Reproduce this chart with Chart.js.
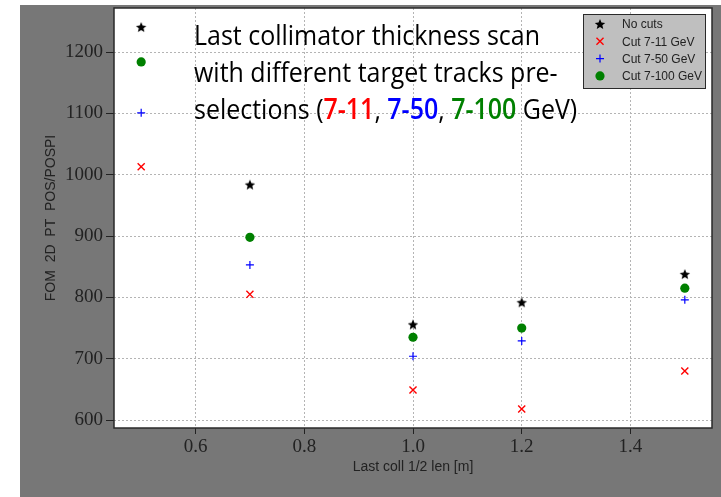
<!DOCTYPE html>
<html>
<head>
<meta charset="utf-8">
<script src="https://cdn.jsdelivr.net/npm/chart.js@4/dist/chart.umd.min.js"></script>
<style>
  html, body { margin: 0; padding: 0; background: #ffffff; }
  #wrap { width: 721px; height: 497px; position: relative; }
</style>
</head>
<body>
<div id="wrap"><canvas id="c" width="721" height="497"></canvas></div>
<script>
// Last collimator half-length scan, FOM for each target-track pre-selection
const halfLengths = [0.5, 0.7, 1.0, 1.2, 1.5];
const fomNoCuts   = [1241, 984, 756, 792, 838];
const fomCut7_11  = [1013, 805, 649, 618, 680];
const fomCut7_50  = [1101, 853, 704, 729, 796];
const fomCut7_100 = [1184, 898, 735, 750, 815];

const seriesNames = ['No cuts', 'Cut 7-11 GeV', 'Cut 7-50 GeV', 'Cut 7-100 GeV'];
const xTicks = [0.6, 0.8, 1.0, 1.2, 1.4];
const yTicks = [600, 700, 800, 900, 1000, 1100, 1200];

const toPoints = (ys) => halfLengths.map((x, i) => ({ x: x, y: ys[i] }));

// filled five-point star marker
function makeStar(size, r, color) {
  const cv = document.createElement('canvas');
  cv.width = size; cv.height = size;
  const g = cv.getContext('2d');
  g.fillStyle = color;
  g.beginPath();
  for (let i = 0; i < 10; i++) {
    const rad = i % 2 === 0 ? r : r * 0.45;
    const a = -Math.PI / 2 + i * Math.PI / 5;
    const px = size / 2 + rad * Math.cos(a);
    const py = size / 2 + 0.6 + rad * Math.sin(a);
    if (i === 0) g.moveTo(px, py); else g.lineTo(px, py);
  }
  g.closePath();
  g.fill();
  return cv;
}
const starMarker = makeStar(14, 5.5, '#000000');

const tickFont = { family: "'Liberation Serif', 'DejaVu Serif', serif", size: 19 };
const titleFont = { family: "'Liberation Sans', 'DejaVu Sans', sans-serif", size: 14 };

// draws one legend marker in the style of its dataset
function legendMarker(ctx, ds, cx, cy) {
  const st = ds.pointStyle;
  if (st instanceof HTMLCanvasElement) {
    ctx.drawImage(st, cx - st.width / 2, cy - st.height / 2);
    return;
  }
  ctx.fillStyle = ds.pointBackgroundColor;
  ctx.strokeStyle = ds.pointBorderColor;
  ctx.lineWidth = ds.pointBorderWidth;
  const r = ds.pointRadius;
  ctx.beginPath();
  if (st === 'circle') {
    ctx.arc(cx, cy, r, 0, Math.PI * 2);
    ctx.fill();
  } else if (st === 'cross') {
    ctx.moveTo(cx - r, cy); ctx.lineTo(cx + r, cy);
    ctx.moveTo(cx, cy - r); ctx.lineTo(cx, cy + r);
    ctx.stroke();
  } else if (st === 'crossRot') {
    const d = r * Math.SQRT1_2;
    ctx.moveTo(cx - d, cy - d); ctx.lineTo(cx + d, cy + d);
    ctx.moveTo(cx - d, cy + d); ctx.lineTo(cx + d, cy - d);
    ctx.stroke();
  }
}

// page backdrop, frame, legend box and the annotation text
const decor = {
  id: 'decor',
  beforeDraw(chart) {
    const { ctx, chartArea: a } = chart;
    ctx.save();
    ctx.fillStyle = '#ffffff';
    ctx.fillRect(0, 0, chart.width, chart.height);
    ctx.fillStyle = '#777777';
    ctx.fillRect(20, 5, chart.width - 20, chart.height - 5);
    ctx.fillStyle = '#ffffff';
    ctx.fillRect(a.left, a.top, a.right - a.left, a.bottom - a.top);
    ctx.restore();
  },
  afterDraw(chart) {
    const { ctx, chartArea: a } = chart;
    ctx.save();
    // frame
    ctx.strokeStyle = '#2a2a2a';
    ctx.lineWidth = 1.5;
    ctx.strokeRect(a.left, a.top, a.right - a.left, a.bottom - a.top);

    // legend
    const lx = a.right - 129, ly = a.top + 6, lw = 122, lh = 74;
    ctx.fillStyle = '#bfbfbf';
    ctx.fillRect(lx, ly, lw, lh);
    ctx.strokeStyle = '#2a2a2a';
    ctx.lineWidth = 1;
    ctx.strokeRect(lx + 0.5, ly + 0.5, lw, lh);
    ctx.textBaseline = 'middle';
    ctx.textAlign = 'left';
    chart.data.datasets.forEach((ds, i) => {
      const cy = ly + 10 + i * 17.3;
      legendMarker(ctx, ds, lx + 17, cy);
      ctx.font = "12px 'Liberation Sans', 'DejaVu Sans', sans-serif";
      ctx.fillStyle = '#222222';
      ctx.fillText(ds.label, lx + 39, cy + 1);
    });

    // annotation
    const lines = [
      [['Last collimator thickness scan', '#000000', false]],
      [['with different target tracks pre-', '#000000', false]],
      [['selections (', '#000000', false], ['7-11', '#ff0000', true], [', ', '#000000', false],
       ['7-50', '#0000ff', true], [', ', '#000000', false], ['7-100', '#008000', true],
       [' GeV)', '#000000', false]]
    ];
    const baseFamily = "'Open Sans', 'Noto Sans', sans-serif";
    const fontFor = (bold) => (bold ? '600 ' : '') + "28px " + baseFamily;
    ctx.font = fontFor(false);
    const sx = 346 / ctx.measureText(lines[0][0][0]).width;
    const baselines = [45, 82, 119];
    ctx.textBaseline = 'alphabetic';
    lines.forEach((segs, li) => {
      ctx.save();
      ctx.translate(194, baselines[li]);
      ctx.scale(sx, 1);
      let x = 0;
      segs.forEach(([t, col, bold]) => {
        ctx.font = fontFor(bold);
        ctx.fillStyle = col;
        ctx.fillText(t, x, 0);
        x += ctx.measureText(t).width;
      });
      ctx.restore();
    });
    ctx.restore();
  }
};

new Chart(document.getElementById('c'), {
  type: 'scatter',
  data: {
    datasets: [
      { label: seriesNames[0], data: toPoints(fomNoCuts), pointStyle: starMarker,
        pointRadius: 6, pointBackgroundColor: '#000', pointBorderColor: '#000', pointBorderWidth: 1 },
      { label: seriesNames[1], data: toPoints(fomCut7_11), pointStyle: 'crossRot',
        pointRadius: 5, pointBackgroundColor: '#ff0000', pointBorderColor: '#ff0000', pointBorderWidth: 1.4 },
      { label: seriesNames[2], data: toPoints(fomCut7_50), pointStyle: 'cross',
        pointRadius: 4, pointBackgroundColor: '#0000ff', pointBorderColor: '#0000ff', pointBorderWidth: 1.2 },
      { label: seriesNames[3], data: toPoints(fomCut7_100), pointStyle: 'circle',
        pointRadius: 4.6, pointBackgroundColor: '#008000', pointBorderColor: '#008000', pointBorderWidth: 0 }
    ]
  },
  options: {
    responsive: false,
    animation: false,
    events: [],
    layout: { padding: { left: 0, top: 8, right: 9, bottom: 0 } },
    plugins: { legend: { display: false }, tooltip: { enabled: false } },
    scales: {
      x: {
        type: 'linear', min: 0.45, max: 1.55,
        afterFit(s) { s.height = 69; s.paddingLeft = 0; s.paddingRight = 0; },
        afterBuildTicks(s) { s.ticks = xTicks.map(v => ({ value: v })); },
        ticks: { font: tickFont, color: '#222', padding: 2, includeBounds: false,
                 callback: v => Number(v).toFixed(1) },
        grid: { color: '#b4b4b4', lineWidth: 1, tickLength: 6,
                tickColor: '#222', tickBorderDash: [], tickWidth: 1 },
        border: { display: false, dash: [2, 2] },
        title: { display: true, text: 'Last coll 1/2 len [m]', color: '#222', font: titleFont,
                 padding: { top: 0, bottom: 21 } }
      },
      y: {
        type: 'linear', min: 587, max: 1272,
        afterFit(s) { s.width = 114; s.paddingTop = 0; s.paddingBottom = 0; },
        afterBuildTicks(s) { s.ticks = yTicks.map(v => ({ value: v })); },
        ticks: { font: tickFont, color: '#222', padding: 3, includeBounds: false,
                 callback: v => String(v) },
        grid: { color: '#b4b4b4', lineWidth: 1, tickLength: 8,
                tickColor: '#222', tickBorderDash: [], tickWidth: 1 },
        border: { display: false, dash: [2, 2] },
        title: { display: true, text: 'FOM  2D  PT  POS/POSPI', color: '#222', font: titleFont,
                 padding: { top: 43, bottom: 0 } }
      }
    }
  },
  plugins: [decor]
});
</script>
</body>
</html>
